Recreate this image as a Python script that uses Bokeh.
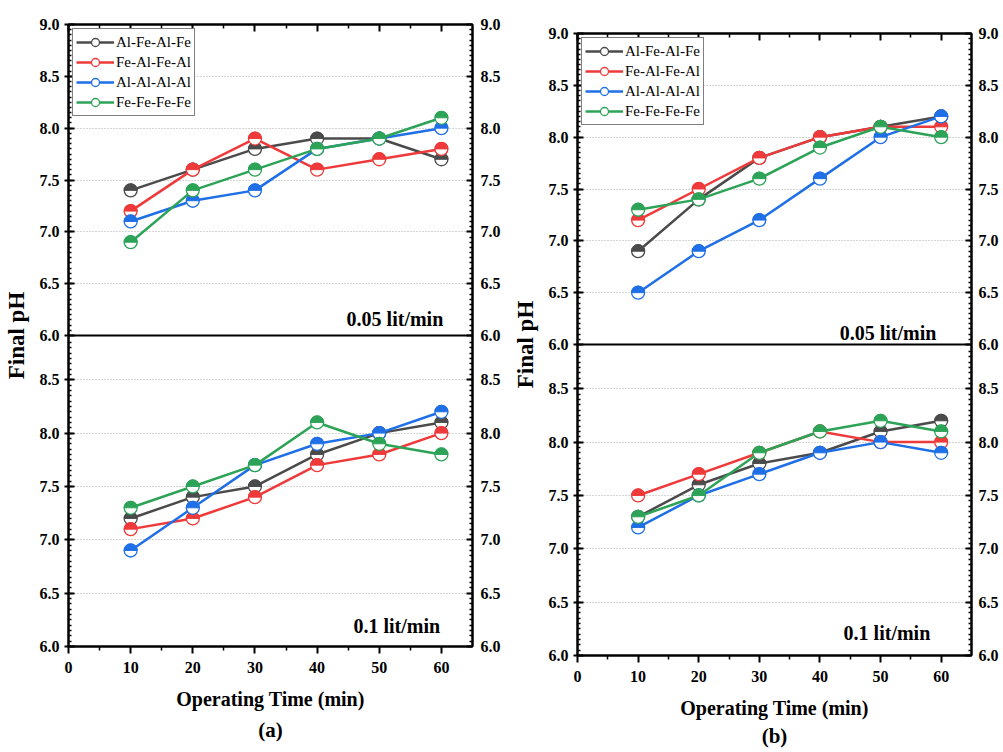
import numpy as np
from bokeh.plotting import figure
from bokeh.layouts import row, column, Spacer
from bokeh.models import (Range1d, LinearAxis, FixedTicker, Legend, LegendItem,
                          Label, Span, Title)
from bokeh.embed import file_html
from bokeh.resources import INLINE

# ---------------- data ----------------
time_min = [10, 20, 30, 40, 50, 60]
series_names = ["Al-Fe-Al-Fe", "Fe-Al-Fe-Al", "Al-Al-Al-Al", "Fe-Fe-Fe-Fe"]
colors = ["#4b4b4b", "#ee3a3a", "#1f6fe6", "#2da358"]

# panel (a), 0.05 lit/min
a05_alfe = [7.4, 7.6, 7.8, 7.9, 7.9, 7.7]
a05_feal = [7.2, 7.6, 7.9, 7.6, 7.7, 7.8]
a05_alal = [7.1, 7.3, 7.4, 7.8, 7.9, 8.0]
a05_fefe = [6.9, 7.4, 7.6, 7.8, 7.9, 8.1]
# panel (a), 0.1 lit/min
a1_alfe = [7.2, 7.4, 7.5, 7.8, 8.0, 8.1]
a1_feal = [7.1, 7.2, 7.4, 7.7, 7.8, 8.0]
a1_alal = [6.9, 7.3, 7.7, 7.9, 8.0, 8.2]
a1_fefe = [7.3, 7.5, 7.7, 8.1, 7.9, 7.8]
# panel (b), 0.05 lit/min
b05_alfe = [6.9, 7.4, 7.8, 8.0, 8.1, 8.2]
b05_feal = [7.2, 7.5, 7.8, 8.0, 8.1, 8.1]
b05_alal = [6.5, 6.9, 7.2, 7.6, 8.0, 8.2]
b05_fefe = [7.3, 7.4, 7.6, 7.9, 8.1, 8.0]
# panel (b), 0.1 lit/min
b1_alfe = [7.3, 7.6, 7.8, 7.9, 8.1, 8.2]
b1_feal = [7.5, 7.7, 7.9, 8.1, 8.0, 8.0]
b1_alal = [7.2, 7.5, 7.7, 7.9, 8.0, 7.9]
b1_fefe = [7.3, 7.5, 7.9, 8.1, 8.2, 8.1]

x_ticks = [0, 10, 20, 30, 40, 50, 60]
x_minor = [5, 15, 25, 35, 45, 55]
ph_ticks = [6.0, 6.5, 7.0, 7.5, 8.0, 8.5, 9.0]
flow_labels = ["0.05 lit/min", "0.1 lit/min"]
x_title = "Operating Time (min)"
y_title = "Final pH"

FONT = "Liberation Serif"
FRAME_H = 622
LOWER_SPAN = 2.915  # pH span visible in the lower (0.1 lit/min) panel


def upper_pos(v):
    """Position on the main (lower-panel) axis scale for an upper-panel pH value."""
    return 6.0 + LOWER_SPAN + (v - 6.0) * LOWER_SPAN / 3.0


lower_tick_pos = [t for t in ph_ticks if t < 9.0]
upper_tick_pos = [upper_pos(t) for t in ph_ticks]
y_tick_pos = lower_tick_pos + upper_tick_pos
y_labels = {t: f"{t:.1f}" for t in lower_tick_pos}
y_labels.update({upper_pos(t): f"{t:.1f}" for t in ph_ticks})
y_minor = [6.0 + 0.05 * k for k in range(1, 58)] + [upper_pos(6.0 + 0.05 * k) for k in range(1, 60)]
grid_pos = [t for t in ph_ticks if 6.0 < t < 9.0] + [upper_pos(t) for t in ph_ticks if 6.0 < t < 9.0]


def style_axis(ax):
    ax.axis_line_color = "black"
    ax.axis_line_width = 2
    ax.major_tick_line_color = "black"
    ax.major_tick_line_width = 2
    ax.minor_tick_line_color = "black"
    ax.minor_tick_line_width = 1.5
    ax.major_label_text_font = FONT
    ax.major_label_text_font_style = "bold"
    ax.major_label_text_font_size = "16px"
    ax.major_label_text_color = "black"
    ax.axis_label_text_font = FONT
    ax.axis_label_text_font_style = "bold"
    ax.axis_label_text_color = "black"


def build(tag, upper_sets, lower_sets, b_left, frame_w, b_top, b_right, b_bottom,
          up_lab, low_lab, lab_standoff, tag_standoff, right_standoff):
    p = figure(frame_width=frame_w, frame_height=FRAME_H,
               min_border_left=b_left, min_border_right=b_right,
               min_border_top=b_top, min_border_bottom=b_bottom,
               x_range=Range1d(0, 65), y_range=Range1d(6.0, 6.0 + 2 * LOWER_SPAN),
               output_backend="svg", toolbar_location=None,
               background_fill_color="white", border_fill_color="white",
               outline_line_color="black", outline_line_width=2)
    p.extra_y_ranges = {"upper": Range1d(3.0, 9.0)}

    xticker = FixedTicker(ticks=x_ticks, minor_ticks=x_minor)
    yticker = FixedTicker(ticks=y_tick_pos, minor_ticks=y_minor)

    # bottom axis
    bx = p.xaxis[0]
    bx.ticker = xticker
    style_axis(bx)
    bx.major_tick_in = 0
    bx.major_tick_out = 7
    bx.minor_tick_in = 0
    bx.minor_tick_out = 4
    bx.major_label_standoff = 8
    bx.axis_label = x_title
    bx.axis_label_text_font_size = "20px"
    bx.axis_label_standoff = lab_standoff

    # left axis
    ly = p.yaxis[0]
    ly.ticker = yticker
    style_axis(ly)
    ly.major_label_overrides = y_labels
    ly.major_tick_in = 6
    ly.major_tick_out = 4
    ly.minor_tick_in = 3
    ly.minor_tick_out = 0
    ly.major_label_standoff = 5
    ly.axis_label = y_title
    ly.axis_label_text_font_size = "23px"
    ly.axis_label_standoff = 8

    # top axis (ticks only)
    tx = LinearAxis(ticker=xticker)
    style_axis(tx)
    tx.major_tick_in = 7
    tx.major_tick_out = 0
    tx.minor_tick_in = 4
    tx.minor_tick_out = 0
    tx.major_label_overrides = {t: "" for t in x_ticks}
    tx.major_label_text_font_size = "0px"
    tx.major_label_standoff = 0
    p.add_layout(tx, "above")

    # right axis
    ry = LinearAxis(ticker=yticker)
    style_axis(ry)
    ry.major_label_overrides = y_labels
    ry.major_tick_in = 6
    ry.major_tick_out = 0
    ry.minor_tick_in = 3
    ry.minor_tick_out = 0
    ry.major_label_standoff = right_standoff
    p.add_layout(ry, "right")

    p.xgrid.visible = False
    p.ygrid.ticker = FixedTicker(ticks=grid_pos)
    p.ygrid.grid_line_color = "#aaaaaa"
    p.ygrid.grid_line_dash = "1 2"
    p.ygrid.grid_line_width = 1

    legend_items = []
    for rng, sets in (("upper", upper_sets), ("default", lower_sets)):
        for name, col, vals in zip(series_names, colors, sets):
            lr = p.line(time_min, vals, line_color=col, line_width=2.5, y_range_name=rng)
            cr = p.scatter(time_min, vals, size=13, marker="circle", fill_color="white",
                           line_color=col, line_width=1.3, y_range_name=rng)
            p.wedge(time_min, vals, radius=6.5, radius_units="screen",
                    start_angle=0, end_angle=np.pi, fill_color=col, line_color=col,
                    line_width=1, y_range_name=rng)
            if rng == "upper":
                legend_items.append(LegendItem(label=name, renderers=[lr, cr]))

    legend = Legend(items=legend_items, location="top_left",
                    label_text_font=FONT, label_text_font_size="15px",
                    label_text_color="black",
                    label_height=20, glyph_height=20, glyph_width=38,
                    label_standoff=2, spacing=0, padding=3, margin=4,
                    border_line_color="black", border_line_width=1,
                    background_fill_color="white", background_fill_alpha=1)
    p.add_layout(legend)

    p.add_layout(Span(location=6.0 + LOWER_SPAN, dimension="width",
                      line_color="black", line_width=2))

    p.add_layout(Label(x=up_lab[0], y=up_lab[1], y_range_name="upper", text=flow_labels[0],
                       text_align="right", text_baseline="middle",
                       text_font=FONT, text_font_style="bold", text_font_size="20px",
                       text_color="black"))
    p.add_layout(Label(x=low_lab[0], y=low_lab[1], text=flow_labels[1],
                       text_align="right", text_baseline="middle",
                       text_font=FONT, text_font_style="bold", text_font_size="20px",
                       text_color="black"))

    p.add_layout(Title(text=tag, align="center", text_font=FONT, text_font_style="bold",
                       text_font_size="21px", text_color="black", standoff=tag_standoff),
                 "below")
    return p


pa = build("(a)", [a05_alfe, a05_feal, a05_alal, a05_fefe],
           [a1_alfe, a1_feal, a1_alal, a1_fefe],
           60, 404, 24, 37, 104, (60.3, 6.155), (59.8, 6.19), 12, 7, 8)
pb = build("(b)", [b05_alfe, b05_feal, b05_alal, b05_fefe],
           [b1_alfe, b1_feal, b1_alal, b1_fefe],
           66, 394, 24, 28, 96, (59.2, 6.115), (58.2, 6.21), 12, 1, 7)

layout = row(pa, column(Spacer(width=10, height=9), pb))
open("out.html", "w").write(file_html(layout, INLINE))
